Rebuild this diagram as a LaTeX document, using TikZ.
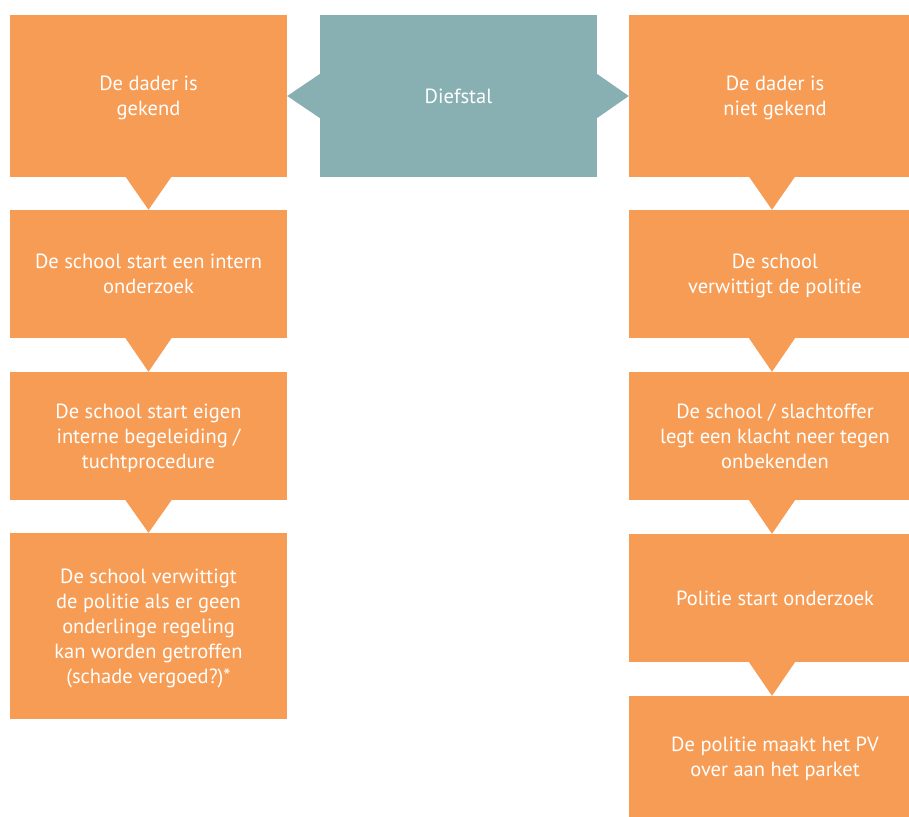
\documentclass[tikz,border=0pt]{standalone}
\usepackage{fontspec}
\setmainfont{PT Sans}
\definecolor{oranje}{RGB}{247,156,85}
\definecolor{grijsblauw}{RGB}{136,176,179}
\begin{document}
\begin{tikzpicture}[x=1pt, y=-1pt,
    box/.style={fill=oranje, inner sep=0pt, text=white, align=center, text depth=0pt,
      font=\fontsize{20.5}{25}\selectfont},
    kolom/.style={box, minimum width=277pt},
    rkolom/.style={box, minimum width=292pt},
    start/.style={box, fill=grijsblauw, minimum width=277pt, minimum height=161pt}]
  \useasboundingbox (0,0) rectangle (909,816);
  % midden
  \node[start] (diefstal) at (458.5,96) {Diefstal};
  % linkerkolom: dader gekend
  \node[kolom, minimum height=161pt] (l1) at (148.5,96) {De dader is\\gekend};
  \node[kolom, minimum height=128pt] (l2) at (148.5,274) {De school start een intern\\onderzoek};
  \node[kolom, minimum height=128pt] (l3) at (148.5,436) {De school start eigen\\interne begeleiding /\\tuchtprocedure};
  \node[kolom, minimum height=186pt] (l4) at (148.5,626) {De school verwittigt\\de politie als er geen\\onderlinge regeling\\kan worden getroffen\\(schade vergoed?)*};
  % rechterkolom: dader niet gekend (loopt door tot buiten de rand)
  \node[rkolom, minimum height=161pt] (r1) at (775,96) {De dader is\\niet gekend};
  \node[rkolom, minimum height=128pt] (r2) at (775,274) {De school\\verwittigt de politie};
  \node[rkolom, minimum height=128pt] (r3) at (775,436) {De school / slachtoffer\\legt een klacht neer tegen\\onbekenden};
  \node[rkolom, minimum height=128pt] (r4) at (775,598) {Politie start onderzoek};
  \node[rkolom, minimum height=121pt] (r5) at (775,756.5) {De politie maakt het PV\\over aan het parket};
  % pijlpunten
  \fill[grijsblauw] ([yshift=-22pt]diefstal.west) -- ([yshift=22pt]diefstal.west) -- (l1.east) -- cycle;
  \fill[grijsblauw] ([yshift=-22pt]diefstal.east) -- ([yshift=22pt]diefstal.east) -- (r1.west) -- cycle;
  \foreach \a/\b in {l1/l2, l2/l3, l3/l4}
    \fill[oranje] ([xshift=-23pt]\a.south) -- ([xshift=23pt]\a.south) -- (\b.north) -- cycle;
  \foreach \a/\b in {r1/r2, r2/r3, r3/r4, r4/r5}
    \fill[oranje] ([xshift=-26pt]\a.south) -- ([xshift=20pt]\a.south) -- ([xshift=-3pt]\b.north) -- cycle;
\end{tikzpicture}
\end{document}
